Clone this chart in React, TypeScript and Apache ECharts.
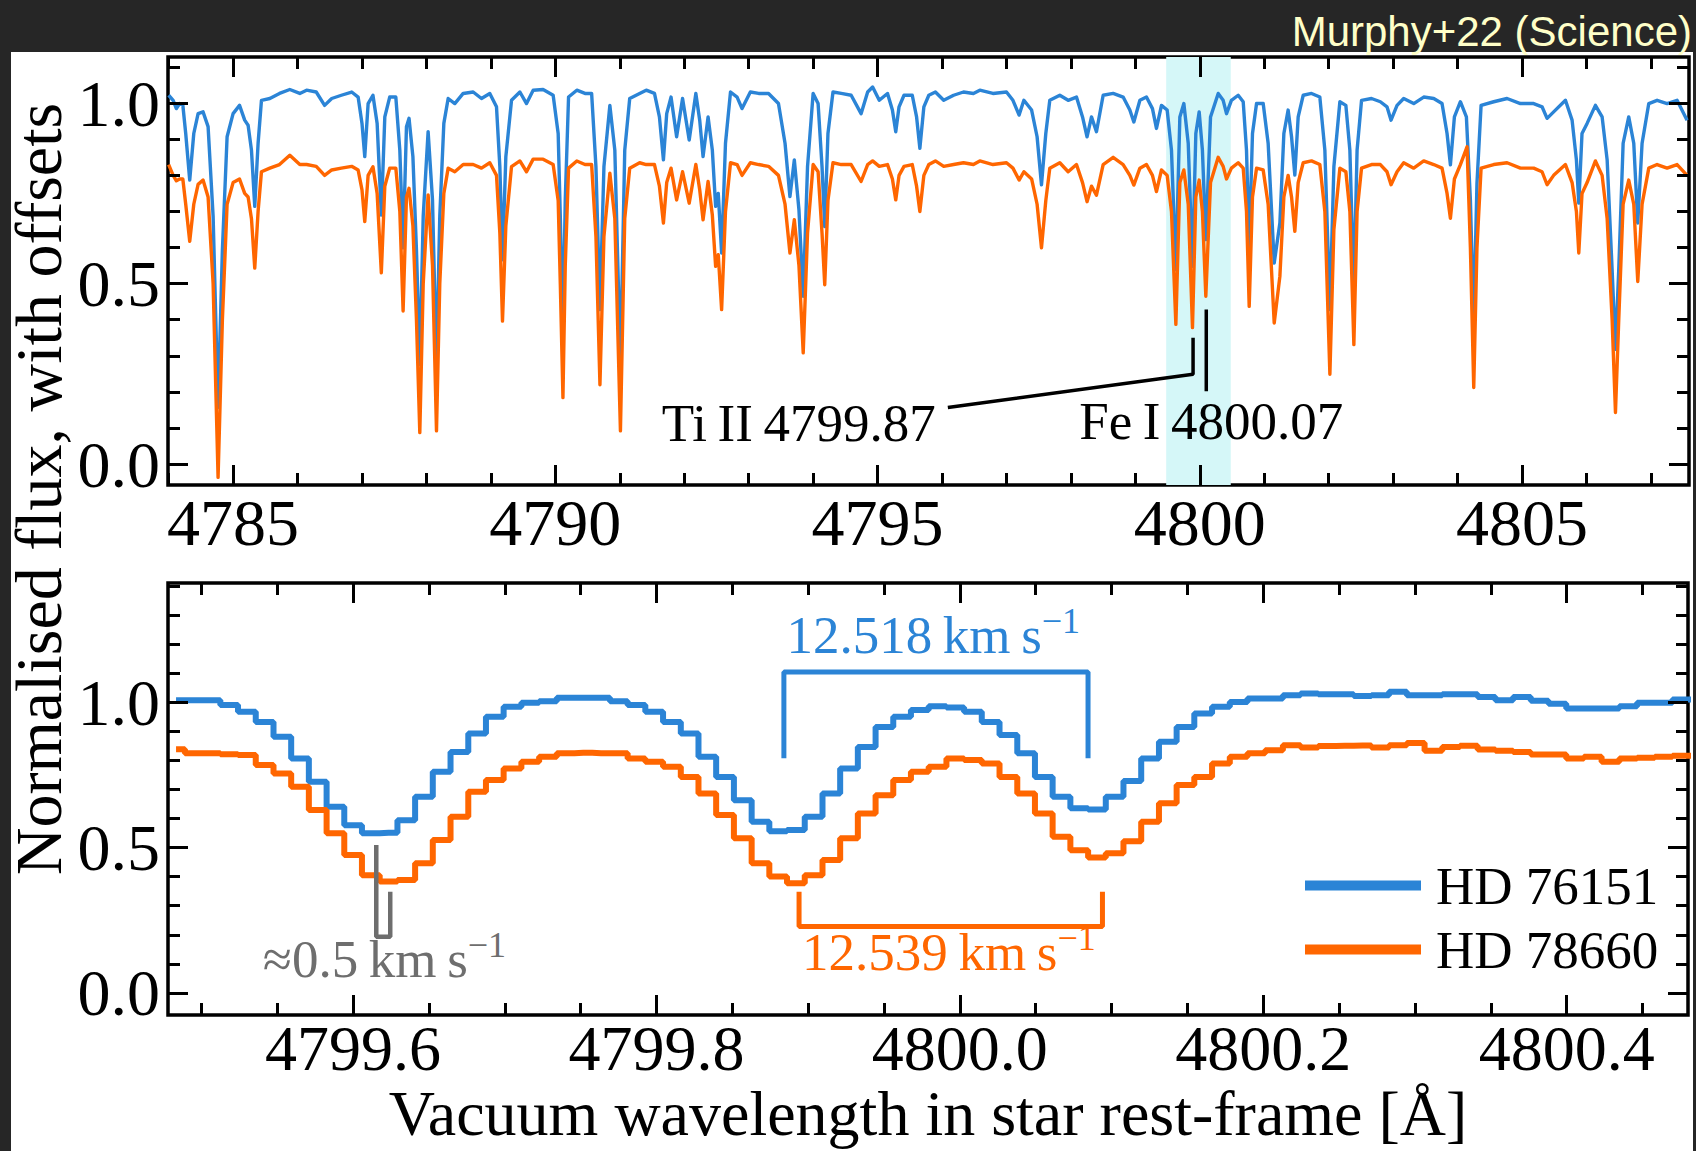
import React, { useEffect, useRef } from 'react';
import * as echarts from 'echarts';

const BLUE = '#2b84d6';
const ORANGE = '#ff6600';
const GREY = '#6e6e6e';
const SERIF = '"Liberation Serif", "DejaVu Serif", serif';

// ---------- Top panel: full spectrum (wavelength [A], normalised flux with offset) ----------
const topBlue: [number, number][] = [
  [4784.0,1.022],[4784.07,1.008],[4784.12,0.985],[4784.17,0.999],[4784.22,0.995],[4784.265,0.916],[4784.327,0.787],[4784.39,0.916],[4784.457,0.971],[4784.534,0.976],[4784.612,0.935],[4784.69,0.687],[4784.767,0.157],[4784.834,0.594],[4784.907,0.907],[4785.0,0.971],[4785.1,0.994],[4785.18,0.953],[4785.233,0.939],[4785.285,0.87],[4785.336,0.714],[4785.388,0.889],[4785.44,1.008],[4785.57,1.013],[4785.72,1.027],[4785.88,1.038],[4786.035,1.027],[4786.14,1.036],[4786.29,1.031],[4786.42,0.994],[4786.53,1.013],[4786.68,1.022],[4786.84,1.031],[4786.94,1.017],[4787.0,0.944],[4787.043,0.852],[4787.095,0.999],[4787.17,1.022],[4787.235,0.944],[4787.3,0.69],[4787.354,0.962],[4787.43,1.017],[4787.525,1.017],[4787.587,0.87],[4787.638,0.599],[4787.69,0.935],[4787.73,0.958],[4787.79,0.852],[4787.845,0.594],[4787.897,0.276],[4787.95,0.687],[4788.026,0.921],[4788.094,0.732],[4788.156,0.267],[4788.207,0.687],[4788.27,0.944],[4788.337,1.013],[4788.44,0.999],[4788.57,1.027],[4788.725,1.031],[4788.854,1.013],[4788.983,1.027],[4789.087,0.99],[4789.139,0.824],[4789.18,0.566],[4789.232,0.852],[4789.32,1.008],[4789.45,1.031],[4789.553,0.999],[4789.656,1.036],[4789.81,1.038],[4789.966,1.022],[4790.044,0.916],[4790.077,0.686],[4790.118,0.368],[4790.154,0.732],[4790.205,1.017],[4790.333,1.036],[4790.46,1.027],[4790.563,1.027],[4790.63,0.824],[4790.692,0.428],[4790.754,0.824],[4790.846,0.994],[4790.923,0.87],[4791.01,0.276],[4791.077,0.87],[4791.154,1.013],[4791.308,1.027],[4791.41,1.036],[4791.538,1.027],[4791.615,0.962],[4791.677,0.843],[4791.728,0.971],[4791.795,1.017],[4791.882,0.907],[4791.974,1.013],[4792.077,0.898],[4792.18,1.027],[4792.24,0.953],[4792.292,0.852],[4792.37,0.962],[4792.436,0.87],[4792.487,0.714],[4792.528,0.75],[4792.58,0.585],[4792.64,0.889],[4792.718,1.031],[4792.82,1.017],[4792.897,0.985],[4793.026,1.031],[4793.154,1.027],[4793.308,1.027],[4793.462,0.999],[4793.564,0.889],[4793.64,0.741],[4793.708,0.843],[4793.78,0.704],[4793.846,0.465],[4793.913,0.824],[4794.0,1.027],[4794.077,0.999],[4794.138,0.824],[4794.18,0.658],[4794.23,0.916],[4794.308,1.031],[4794.436,1.027],[4794.59,1.022],[4794.744,0.971],[4794.846,1.031],[4794.923,1.045],[4795.026,1.008],[4795.154,1.027],[4795.23,0.981],[4795.282,0.921],[4795.333,0.99],[4795.41,1.022],[4795.538,1.022],[4795.605,0.962],[4795.656,0.875],[4795.718,0.99],[4795.795,1.022],[4795.897,1.031],[4796.026,1.008],[4796.18,1.022],[4796.333,1.031],[4796.487,1.027],[4796.586,1.036],[4796.79,1.027],[4797.0,1.031],[4797.1,1.008],[4797.196,0.967],[4797.27,1.008],[4797.39,0.981],[4797.475,0.907],[4797.543,0.774],[4797.61,0.916],[4797.672,1.008],[4797.827,1.022],[4797.957,1.008],[4798.086,1.017],[4798.18,0.962],[4798.25,0.907],[4798.319,0.962],[4798.396,0.921],[4798.5,1.022],[4798.655,1.027],[4798.81,1.017],[4798.914,0.981],[4798.976,0.948],[4799.07,1.008],[4799.172,1.017],[4799.265,0.985],[4799.327,0.93],[4799.405,0.994],[4799.493,0.981],[4799.56,0.87],[4799.628,0.539],[4799.69,0.962],[4799.752,0.999],[4799.82,0.889],[4799.886,0.548],[4799.938,0.916],[4799.99,0.976],[4800.04,0.87],[4800.093,0.622],[4800.166,0.962],[4800.285,1.027],[4800.362,1.008],[4800.414,0.971],[4800.49,1.008],[4800.595,1.022],[4800.673,1.004],[4800.724,0.87],[4800.766,0.599],[4800.817,0.916],[4800.88,0.999],[4800.983,0.999],[4801.06,0.889],[4801.154,0.557],[4801.242,0.668],[4801.304,0.916],[4801.37,0.981],[4801.423,0.907],[4801.474,0.801],[4801.526,0.962],[4801.604,1.022],[4801.733,1.027],[4801.862,1.017],[4801.94,0.87],[4802.018,0.428],[4802.08,0.824],[4802.173,1.004],[4802.266,0.994],[4802.328,0.87],[4802.39,0.483],[4802.44,0.87],[4802.509,1.008],[4802.664,1.013],[4802.801,1.004],[4802.904,0.99],[4802.967,0.953],[4803.06,0.994],[4803.163,1.013],[4803.319,0.999],[4803.474,1.017],[4803.629,1.013],[4803.758,0.999],[4803.836,0.916],[4803.888,0.829],[4803.95,0.962],[4804.043,1.004],[4804.136,0.962],[4804.198,0.732],[4804.25,0.391],[4804.3,0.778],[4804.364,0.994],[4804.56,1.004],[4804.767,1.013],[4804.974,0.999],[4805.18,0.999],[4805.31,0.99],[4805.388,0.958],[4805.49,0.976],[4805.673,1.008],[4805.776,0.953],[4805.843,0.843],[4805.88,0.723],[4805.93,0.916],[4806.009,0.944],[4806.138,0.994],[4806.242,0.962],[4806.32,0.843],[4806.397,0.539],[4806.449,0.318],[4806.5,0.539],[4806.568,0.889],[4806.655,0.962],[4806.733,0.889],[4806.795,0.668],[4806.862,0.889],[4806.966,0.999],[4807.095,1.008],[4807.25,0.999],[4807.405,1.008],[4807.56,0.953],
];

const topOrange: [number, number][] = [
  [4784.0,0.83],[4784.07,0.8],[4784.12,0.785],[4784.17,0.79],[4784.22,0.79],[4784.265,0.72],[4784.327,0.617],[4784.39,0.72],[4784.457,0.775],[4784.534,0.787],[4784.612,0.74],[4784.69,0.5],[4784.767,-0.037],[4784.834,0.4],[4784.907,0.72],[4785.0,0.78],[4785.1,0.79],[4785.18,0.75],[4785.233,0.74],[4785.285,0.68],[4785.336,0.543],[4785.388,0.7],[4785.44,0.81],[4785.57,0.82],[4785.72,0.83],[4785.88,0.856],[4786.035,0.83],[4786.14,0.83],[4786.29,0.825],[4786.42,0.8],[4786.53,0.815],[4786.68,0.82],[4786.84,0.825],[4786.94,0.815],[4787.0,0.76],[4787.043,0.672],[4787.095,0.8],[4787.17,0.824],[4787.235,0.75],[4787.3,0.53],[4787.354,0.77],[4787.43,0.82],[4787.525,0.82],[4787.587,0.7],[4787.638,0.424],[4787.69,0.74],[4787.73,0.764],[4787.79,0.66],[4787.845,0.4],[4787.897,0.087],[4787.95,0.5],[4788.026,0.746],[4788.094,0.55],[4788.156,0.092],[4788.207,0.5],[4788.27,0.75],[4788.337,0.82],[4788.44,0.81],[4788.57,0.83],[4788.725,0.83],[4788.854,0.82],[4788.983,0.835],[4789.087,0.8],[4789.139,0.64],[4789.18,0.396],[4789.232,0.66],[4789.32,0.824],[4789.45,0.84],[4789.553,0.81],[4789.656,0.845],[4789.81,0.845],[4789.966,0.83],[4790.044,0.73],[4790.077,0.5],[4790.118,0.184],[4790.154,0.55],[4790.205,0.82],[4790.333,0.84],[4790.46,0.83],[4790.563,0.83],[4790.63,0.63],[4790.692,0.22],[4790.754,0.63],[4790.846,0.806],[4790.923,0.68],[4791.01,0.092],[4791.077,0.68],[4791.154,0.82],[4791.308,0.835],[4791.41,0.83],[4791.538,0.83],[4791.615,0.77],[4791.677,0.668],[4791.728,0.78],[4791.795,0.82],[4791.882,0.732],[4791.974,0.81],[4792.077,0.723],[4792.18,0.83],[4792.24,0.76],[4792.292,0.677],[4792.37,0.783],[4792.436,0.69],[4792.487,0.548],[4792.528,0.58],[4792.58,0.428],[4792.64,0.7],[4792.718,0.835],[4792.82,0.83],[4792.897,0.8],[4793.026,0.835],[4793.154,0.83],[4793.308,0.825],[4793.462,0.8],[4793.564,0.72],[4793.64,0.585],[4793.708,0.677],[4793.78,0.55],[4793.846,0.308],[4793.913,0.64],[4794.0,0.83],[4794.077,0.81],[4794.138,0.64],[4794.18,0.497],[4794.23,0.73],[4794.308,0.835],[4794.436,0.83],[4794.59,0.83],[4794.744,0.783],[4794.846,0.83],[4794.923,0.84],[4795.026,0.825],[4795.154,0.83],[4795.23,0.79],[4795.282,0.732],[4795.333,0.8],[4795.41,0.825],[4795.538,0.83],[4795.605,0.77],[4795.656,0.7],[4795.718,0.8],[4795.795,0.83],[4795.897,0.84],[4796.026,0.825],[4796.18,0.83],[4796.333,0.835],[4796.487,0.83],[4796.586,0.84],[4796.79,0.83],[4797.0,0.835],[4797.1,0.82],[4797.196,0.787],[4797.27,0.81],[4797.39,0.79],[4797.475,0.72],[4797.543,0.599],[4797.61,0.73],[4797.672,0.82],[4797.827,0.835],[4797.957,0.81],[4798.086,0.83],[4798.18,0.78],[4798.25,0.727],[4798.319,0.77],[4798.396,0.745],[4798.5,0.83],[4798.655,0.85],[4798.81,0.83],[4798.914,0.8],[4798.976,0.773],[4799.07,0.82],[4799.172,0.83],[4799.265,0.8],[4799.327,0.755],[4799.405,0.815],[4799.493,0.8],[4799.56,0.7],[4799.628,0.387],[4799.69,0.78],[4799.752,0.815],[4799.82,0.72],[4799.886,0.378],[4799.938,0.74],[4799.99,0.787],[4800.04,0.7],[4800.093,0.465],[4800.166,0.78],[4800.285,0.85],[4800.362,0.825],[4800.414,0.79],[4800.49,0.82],[4800.595,0.835],[4800.673,0.82],[4800.724,0.7],[4800.766,0.437],[4800.817,0.74],[4800.88,0.82],[4800.983,0.815],[4801.06,0.72],[4801.154,0.391],[4801.242,0.52],[4801.304,0.74],[4801.37,0.8],[4801.423,0.74],[4801.474,0.645],[4801.526,0.78],[4801.604,0.835],[4801.733,0.84],[4801.862,0.83],[4801.94,0.7],[4802.018,0.249],[4802.08,0.65],[4802.173,0.82],[4802.266,0.81],[4802.328,0.7],[4802.39,0.331],[4802.44,0.7],[4802.509,0.82],[4802.664,0.83],[4802.801,0.83],[4802.904,0.81],[4802.967,0.774],[4803.06,0.81],[4803.163,0.835],[4803.319,0.82],[4803.474,0.84],[4803.629,0.83],[4803.758,0.82],[4803.836,0.75],[4803.888,0.681],[4803.95,0.79],[4804.043,0.83],[4804.146,0.879],[4804.198,0.6],[4804.25,0.212],[4804.3,0.6],[4804.364,0.82],[4804.56,0.83],[4804.767,0.835],[4804.974,0.82],[4805.18,0.82],[4805.31,0.81],[4805.388,0.774],[4805.49,0.8],[4805.673,0.83],[4805.776,0.78],[4805.843,0.7],[4805.88,0.585],[4805.93,0.75],[4806.009,0.78],[4806.138,0.84],[4806.242,0.8],[4806.32,0.68],[4806.397,0.4],[4806.449,0.143],[4806.5,0.4],[4806.568,0.72],[4806.655,0.787],[4806.733,0.72],[4806.795,0.506],[4806.862,0.72],[4806.966,0.82],[4807.095,0.83],[4807.25,0.82],[4807.405,0.83],[4807.56,0.8],
];

// ---------- Bottom panel: zoom, pixel grid (steps) ----------
const zoomWavelengths: number[] = [
  4799.4833,4799.4950,4799.5067,4799.5183,4799.5300,4799.5417,4799.5534,4799.5650,4799.5767,4799.5884,
  4799.6000,4799.6117,4799.6234,4799.6351,4799.6467,4799.6584,4799.6701,4799.6818,4799.6934,4799.7051,
  4799.7168,4799.7285,4799.7401,4799.7518,4799.7635,4799.7752,4799.7868,4799.7985,4799.8102,4799.8219,
  4799.8335,4799.8452,4799.8569,4799.8686,4799.8802,4799.8919,4799.9036,4799.9153,4799.9269,4799.9386,
  4799.9503,4799.9619,4799.9736,4799.9853,4799.9970,4800.0086,4800.0203,4800.0320,4800.0437,4800.0553,
  4800.0670,4800.0787,4800.0904,4800.1020,4800.1137,4800.1254,4800.1371,4800.1487,4800.1604,4800.1721,
  4800.1838,4800.1954,4800.2071,4800.2188,4800.2304,4800.2421,4800.2538,4800.2655,4800.2771,4800.2888,
  4800.3005,4800.3122,4800.3238,4800.3355,4800.3472,4800.3589,4800.3705,4800.3822,4800.3939,4800.4056,
  4800.4172,4800.4289,4800.4406,4800.4523,4800.4639,4800.4756,4800.4873,
];
const zoomBlue: number[] = [
  1.007,1.007,1.007,0.990,0.967,0.932,0.881,0.806,0.726,0.640,
  0.577,0.549,0.551,0.594,0.675,0.761,0.829,0.892,0.950,0.984,
  0.998,1.003,1.015,1.015,1.015,1.003,0.990,0.967,0.932,0.892,
  0.812,0.743,0.663,0.589,0.556,0.560,0.606,0.686,0.772,0.846,
  0.915,0.950,0.973,0.986,0.982,0.967,0.932,0.887,0.824,0.743,
  0.675,0.635,0.631,0.675,0.729,0.806,0.864,0.915,0.961,0.984,
  1.001,1.013,1.013,1.024,1.030,1.027,1.027,1.021,1.024,1.036,
  1.024,1.024,1.027,1.027,1.018,1.007,1.018,1.005,0.995,0.978,
  0.978,0.978,0.986,0.998,0.998,1.009,1.009,
];
const zoomOrange: number[] = [
  0.838,0.824,0.824,0.821,0.818,0.784,0.755,0.709,0.629,0.549,
  0.474,0.405,0.383,0.388,0.446,0.526,0.606,0.692,0.732,0.772,
  0.795,0.812,0.824,0.826,0.824,0.824,0.806,0.795,0.778,0.743,
  0.686,0.612,0.532,0.446,0.400,0.377,0.405,0.457,0.532,0.617,
  0.680,0.732,0.761,0.778,0.806,0.801,0.789,0.743,0.686,0.617,
  0.537,0.491,0.466,0.480,0.522,0.589,0.652,0.715,0.743,0.789,
  0.812,0.824,0.835,0.852,0.844,0.849,0.850,0.851,0.844,0.852,
  0.860,0.833,0.846,0.850,0.837,0.833,0.829,0.820,0.820,0.806,
  0.812,0.795,0.806,0.809,0.812,0.816,0.816,
];

// ---------- Axes: ranges and tick values ----------
const topXRange = [4783.99, 4807.59];
const topYRange = [-0.058, 1.128];
const zoomXRange = [4799.478, 4800.48];
const zoomYRange = [-0.076, 1.41];
const topXMajor = [4785, 4790, 4795, 4800, 4805];
const topXMinor = [4784,4785,4786,4787,4788,4789,4790,4791,4792,4793,4794,4795,4796,4797,4798,4799,4800,4801,4802,4803,4804,4805,4806,4807];
const topYMajor = [0, 0.5, 1.0];
const topYMinor = [0,0.1,0.2,0.3,0.4,0.5,0.6,0.7,0.8,0.9,1.0,1.1];
const zoomXMajor = [4799.6, 4799.8, 4800.0, 4800.2, 4800.4];
const zoomXMinor = [4799.5,4799.55,4799.6,4799.65,4799.7,4799.75,4799.8,4799.85,4799.9,4799.95,4800.0,4800.05,4800.1,4800.15,4800.2,4800.25,4800.3,4800.35,4800.4,4800.45];
const zoomYMajor = [0, 0.5, 1.0];
const zoomYMinor = [0,0.1,0.2,0.3,0.4,0.5,0.6,0.7,0.8,0.9,1.0,1.1,1.2,1.3,1.4];

// ---------- Annotations ----------
const highlightRange = [4799.478, 4800.48];
const tiMarker: [number, number][] = [[4796.09, 0.157], [4799.895, 0.249], [4799.895, 0.35]];
const feMarker: [number, number][] = [[4800.10, 0.202], [4800.10, 0.428]];
const blueBracket: [number, number][] = [[4799.884, 0.807], [4799.884, 1.104], [4800.0845, 1.104], [4800.0845, 0.807]];
const orangeBracket: [number, number][] = [[4799.894, 0.348], [4799.894, 0.228], [4800.094, 0.228], [4800.094, 0.348]];
const greyMarker: [number, number][] = [[4799.6153, 0.509], [4799.6153, 0.193], [4799.6245, 0.193], [4799.6245, 0.348]];

function axis(kind: 'x' | 'y', gridIndex: number, position: string, range: number[], ticks: number[], len: number, label?: any) {
  const a: any = {
    type: 'value', gridIndex, position, min: range[0], max: range[1],
    axisLine: { show: false, onZero: false },
    splitLine: { show: false },
    axisTick: { show: true, inside: true, length: len, customValues: ticks, lineStyle: { color: '#000', width: 3 } },
    axisLabel: { show: false },
    z: 5,
  };
  if (label) {
    a.axisLabel = {
      show: true, customValues: ticks, formatter: label.fmt, margin: label.margin,
      fontFamily: SERIF, fontSize: label.fontSize || 66, color: '#000',
    };
    if (label.lineHeight) a.axisLabel.lineHeight = label.lineHeight;
  }
  return a;
}

function buildOption(): any {
  const fmt1 = (v: number) => v.toFixed(1);
  const fmt0 = (v: number) => String(Math.round(v));
  const xAxis = [
    axis('x', 0, 'bottom', topXRange, topXMajor, 20, { fmt: fmt0, margin: 4 }),
    axis('x', 0, 'bottom', topXRange, topXMinor, 12),
    axis('x', 0, 'top', topXRange, topXMajor, 20),
    axis('x', 0, 'top', topXRange, topXMinor, 12),
    Object.assign(axis('x', 1, 'bottom', zoomXRange, zoomXMajor, 20, { fmt: fmt1, margin: 8, lineHeight: 50, fontSize: 64 }), {
      name: 'Vacuum wavelength in star rest-frame [Å]', nameLocation: 'middle', nameGap: 73,
      nameMoveOverlap: false,
      nameTextStyle: { fontFamily: SERIF, fontSize: 64, lineHeight: 50, color: '#000' },
    }),
    axis('x', 1, 'bottom', zoomXRange, zoomXMinor, 12),
    axis('x', 1, 'top', zoomXRange, zoomXMajor, 20),
    axis('x', 1, 'top', zoomXRange, zoomXMinor, 12),
  ];
  const yAxis = [
    axis('y', 0, 'left', topYRange, topYMajor, 20, { fmt: fmt1, margin: 8 }),
    axis('y', 0, 'left', topYRange, topYMinor, 12),
    axis('y', 0, 'right', topYRange, topYMajor, 20),
    axis('y', 0, 'right', topYRange, topYMinor, 12),
    axis('y', 1, 'left', zoomYRange, zoomYMajor, 20, { fmt: fmt1, margin: 8 }),
    axis('y', 1, 'left', zoomYRange, zoomYMinor, 12),
    axis('y', 1, 'right', zoomYRange, zoomYMajor, 20),
    axis('y', 1, 'right', zoomYRange, zoomYMinor, 12),
  ];

  const zoomBlueData = zoomWavelengths.map((w, i) => [w, zoomBlue[i]]);
  const zoomOrangeData = zoomWavelengths.map((w, i) => [w, zoomOrange[i]]);

  const kms = (num: string) => `{m|${num}\u2009km\u2009s}{ms|\u22121}`;
  const rich = (color: string) => ({
    m: { fontFamily: SERIF, fontSize: 53, lineHeight: 64, color, opacity: 1 },
    ms: { fontFamily: SERIF, fontSize: 36, lineHeight: 36, verticalAlign: 'top', color, opacity: 1 },
  });
  const hidden = { color: 'rgba(0,0,0,0)', opacity: 1 };

  const series: any[] = [
    {
      type: 'line', xAxisIndex: 0, yAxisIndex: 0, data: [], z: 1, silent: true,
      markArea: { silent: true, itemStyle: { color: '#d5f7f8' }, data: [[{ xAxis: highlightRange[0] }, { xAxis: highlightRange[1] }]] },
    },
    { name: 'HD 76151', type: 'line', xAxisIndex: 0, yAxisIndex: 0, data: topBlue, showSymbol: false, symbol: 'none', color: BLUE, lineStyle: { color: BLUE, width: 3.4, join: 'round' }, z: 3 },
    { name: 'HD 78660', type: 'line', xAxisIndex: 0, yAxisIndex: 0, data: topOrange, showSymbol: false, symbol: 'none', color: ORANGE, lineStyle: { color: ORANGE, width: 3.4, join: 'round' }, z: 3 },
    { name: 'HD 76151', type: 'line', xAxisIndex: 4, yAxisIndex: 4, data: zoomBlueData, step: 'middle', showSymbol: false, symbol: 'none', color: BLUE, lineStyle: { color: BLUE, width: 6 }, z: 3 },
    { name: 'HD 78660', type: 'line', xAxisIndex: 4, yAxisIndex: 4, data: zoomOrangeData, step: 'middle', showSymbol: false, symbol: 'none', color: ORANGE, lineStyle: { color: ORANGE, width: 6 }, z: 3 },
    { type: 'line', xAxisIndex: 0, yAxisIndex: 0, data: tiMarker, showSymbol: false, symbol: 'none', lineStyle: { color: '#000', width: 3.5 }, z: 4, silent: true },
    { type: 'line', xAxisIndex: 0, yAxisIndex: 0, data: feMarker, showSymbol: false, symbol: 'none', lineStyle: { color: '#000', width: 3.5 }, z: 4, silent: true },
    { type: 'line', xAxisIndex: 4, yAxisIndex: 4, data: blueBracket, showSymbol: false, symbol: 'none', lineStyle: { color: BLUE, width: 5 }, z: 4, silent: true },
    { type: 'line', xAxisIndex: 4, yAxisIndex: 4, data: orangeBracket, showSymbol: false, symbol: 'none', lineStyle: { color: ORANGE, width: 5 }, z: 4, silent: true },
    { type: 'line', xAxisIndex: 4, yAxisIndex: 4, data: greyMarker, showSymbol: false, symbol: 'none', lineStyle: { color: GREY, width: 4.5 }, z: 4, silent: true },
    {
      type: 'scatter', xAxisIndex: 0, yAxisIndex: 0, symbolSize: 1, itemStyle: hidden, z: 6, silent: true,
      label: { show: true, position: 'inside', fontFamily: SERIF, fontSize: 53, color: '#000', opacity: 1 },
      data: [
        { value: [4793.777, 0.114], label: { formatter: 'Ti\u2009II\u20094799.87' } },
        { value: [4800.178, 0.119], label: { formatter: 'Fe\u2009I\u20094800.07' } },
      ],
    },
    {
      type: 'scatter', xAxisIndex: 4, yAxisIndex: 4, symbolSize: 1, itemStyle: hidden, z: 6, silent: true,
      label: { show: true, position: 'inside', opacity: 1 },
      data: [
        { value: [4799.9825, 1.23], label: { formatter: kms('12.518'), rich: rich(BLUE) } },
        { value: [4799.9928, 0.141], label: { formatter: kms('12.539'), rich: rich(ORANGE) } },
        { value: [4799.6207, 0.118], label: { formatter: kms('\u22480.5'), rich: rich(GREY) } },
      ],
    },
  ];

  return {
    animation: false,
    backgroundColor: '#ffffff',
    textStyle: { fontFamily: SERIF },
    grid: [
      { left: 168, top: 57, width: 1521, height: 428, show: true, borderColor: '#000', borderWidth: 3.5, backgroundColor: 'rgba(0,0,0,0)', containLabel: false, outerBoundsMode: 'none' },
      { left: 168, top: 583, width: 1520, height: 432, show: true, borderColor: '#000', borderWidth: 3.5, backgroundColor: 'rgba(0,0,0,0)', containLabel: false, outerBoundsMode: 'none' },
    ],
    xAxis, yAxis, series,
    legend: {
      data: ['HD 76151', 'HD 78660'], orient: 'vertical', left: 1300, top: 854,
      icon: 'rect', itemWidth: 116, itemHeight: 10, itemGap: 11, selectedMode: false,
      textStyle: { fontFamily: SERIF, fontSize: 53, lineHeight: 53, color: '#000', padding: [0, 0, 0, 10] },
    },
    graphic: [
      { type: 'rect', shape: { x: 0, y: 0, width: 1696, height: 52 }, style: { fill: '#262626' }, silent: true },
      { type: 'rect', shape: { x: 0, y: 0, width: 11, height: 1151 }, style: { fill: '#262626' }, silent: true },
      { type: 'rect', shape: { x: 1693, y: 0, width: 3, height: 1151 }, style: { fill: '#262626' }, silent: true },
      { type: 'text', x: 1692, y: 31, silent: true, style: { text: 'Murphy+22 (Science)', fill: '#ffffc8', fontFamily: '"Liberation Sans", Arial, sans-serif', fontSize: 42, align: 'right', verticalAlign: 'middle' } },
      { type: 'text', x: 38, y: 489, rotation: Math.PI / 2, silent: true, style: { text: 'Normalised flux, with offsets', fill: '#000', fontFamily: SERIF, fontSize: 66, align: 'center', verticalAlign: 'middle' } },
    ],
  };
}

export default function App() {
  const ref = useRef<HTMLDivElement>(null);
  useEffect(() => {
    if (!ref.current) return;
    const chart = echarts.init(ref.current, null, { renderer: 'svg' });
    chart.setOption(buildOption());
    return () => chart.dispose();
  }, []);
  return <div ref={ref} style={{ position: 'fixed', left: 0, top: 0, width: 1696, height: 1151 }} />;
}
